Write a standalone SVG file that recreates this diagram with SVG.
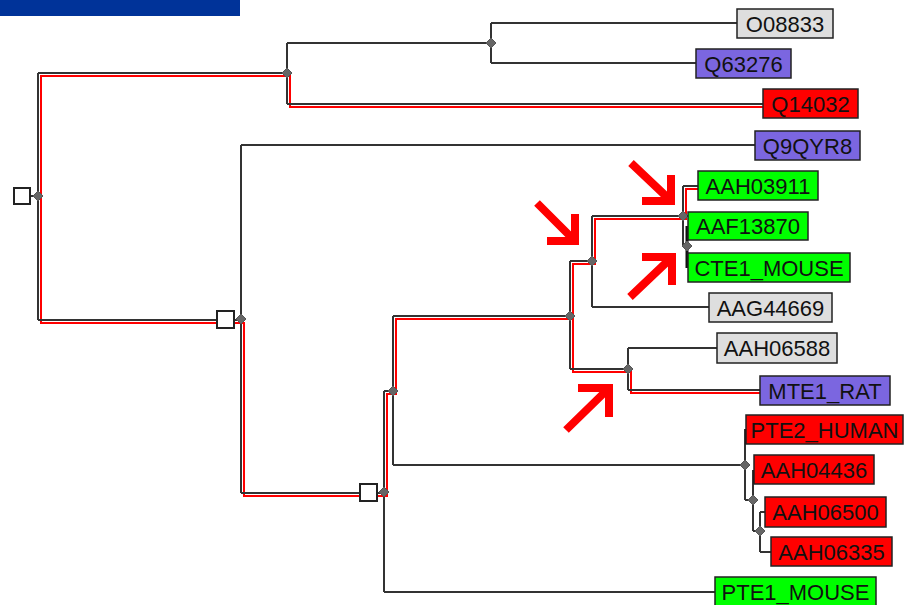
<svg xmlns="http://www.w3.org/2000/svg" width="906" height="605" viewBox="0 0 906 605">
<style>
.ln{fill:none;stroke:#333;stroke-width:2}
.lt{fill:none;stroke:#111;stroke-width:3}
.rd{fill:none;stroke:#ff0000;stroke-width:2}
.ar{fill:none;stroke:#ff0000;stroke-width:8;stroke-linejoin:miter;stroke-linecap:butt}
.dm{fill:#666;stroke:#555;stroke-width:1}
.sq{fill:#fff;stroke:#222;stroke-width:2}
.bx{stroke:#222;stroke-width:1.5}
.g{fill:#dedede}.p{fill:#7b66e0}.r{fill:#ff0000}.gr{fill:#00ff00}
text{font-family:"Liberation Sans",Arial,sans-serif;font-size:22px;fill:#111;text-anchor:middle}
</style>
<defs>
<path id="d" class="dm" d="M0,-5L5,0L0,5L-5,0Z"/>
</defs>
<rect x="0" y="0" width="240" height="16" fill="#003399"/>
<g id="connectors">
<path class="rd" d="M763,107H290V76H41V323H244V496H387V394H396V319H573V264H595V219H686V189H698"/>
<path class="rd" d="M573,319V372H631V393H760"/>
<path class="ln" d="M30,196H38M38,73V320M38,73H287M38,320H241"/>
<path class="ln" d="M287,43V104M287,43H491M287,104H763"/>
<path class="ln" d="M491,23V63M491,23H737M491,63H696"/>
<path class="ln" d="M241,145V493M241,145H755M241,493H384"/>
<path class="ln" d="M384,391V592M384,391H393M384,592H715"/>
<path class="ln" d="M393,316V465M393,316H570M393,465H745"/>
<path class="ln" d="M570,261V369M570,261H592M570,369H628"/>
<path class="ln" d="M592,216V307M592,216H683M592,307H709"/>
<path class="ln" d="M683,186V246M683,186H698M683,246H687"/>
<path class="lt" d="M687,226V268"/>
<path class="ln" d="M628,348V390M628,348H717M628,390H760"/>
<path class="ln" d="M745,429V500M753,500H745"/>
<path class="lt" d="M746.5,429V444"/>
<path class="ln" d="M753,470V531M753,531H760"/>
<path class="lt" d="M754.5,470V484"/>
<path class="ln" d="M760,512V552M760,512H765M760,552H771"/>
</g>
<g id="markers">
<rect class="sq" x="14" y="188" width="16" height="16"/>
<rect class="sq" x="217" y="311" width="17" height="17"/>
<rect class="sq" x="360" y="484" width="17" height="17"/>
<use href="#d" x="38" y="196"/>
<use href="#d" x="287" y="73"/>
<use href="#d" x="491" y="43"/>
<use href="#d" x="241" y="319"/>
<use href="#d" x="384" y="492"/>
<use href="#d" x="393" y="391"/>
<use href="#d" x="570" y="316"/>
<use href="#d" x="592" y="261"/>
<use href="#d" x="683" y="216"/>
<use href="#d" x="687" y="246"/>
<use href="#d" x="628" y="369"/>
<use href="#d" x="745" y="465"/>
<use href="#d" x="753" y="500"/>
<use href="#d" x="760" y="531"/>
</g>
<g id="O08833"><rect class="bx g" x="737" y="9" width="96" height="29"/><text x="785" y="31.5">O08833</text></g>
<g id="Q63276"><rect class="bx p" x="696" y="49" width="95" height="29"/><text x="743.5" y="71.5">Q63276</text></g>
<g id="Q14032"><rect class="bx r" x="763" y="89" width="95" height="29"/><text x="810.5" y="111.5">Q14032</text></g>
<g id="Q9QYR8"><rect class="bx p" x="755" y="131" width="105" height="29"/><text x="807.5" y="153.5">Q9QYR8</text></g>
<g id="AAH03911"><rect class="bx gr" x="698" y="171" width="120" height="29"/><text x="758" y="193.5">AAH03911</text></g>
<g id="AAF13870"><rect class="bx gr" x="688" y="212" width="120" height="28"/><text x="748" y="233.5">AAF13870</text></g>
<g id="CTE1_MOUSE"><rect class="bx gr" x="688" y="253" width="162" height="29"/><text x="769" y="275.5">CTE1_MOUSE</text></g>
<g id="AAG44669"><rect class="bx g" x="709" y="293" width="123" height="29"/><text x="770.5" y="315.5">AAG44669</text></g>
<g id="AAH06588"><rect class="bx g" x="717" y="333" width="120" height="30"/><text x="777" y="356">AAH06588</text></g>
<g id="MTE1_RAT"><rect class="bx p" x="760" y="376" width="130" height="29"/><text x="825" y="398.5">MTE1_RAT</text></g>
<g id="PTE2_HUMAN"><rect class="bx r" x="746" y="415" width="157" height="29"/><text x="824.5" y="437.5">PTE2_HUMAN</text></g>
<g id="AAH04436"><rect class="bx r" x="754" y="455" width="120" height="29"/><text x="814" y="477.5">AAH04436</text></g>
<g id="AAH06500"><rect class="bx r" x="765" y="497" width="121" height="30"/><text x="825.5" y="520">AAH06500</text></g>
<g id="AAH06335"><rect class="bx r" x="771" y="537" width="121" height="29"/><text x="831.5" y="559.5">AAH06335</text></g>
<g id="PTE1_MOUSE"><rect class="bx gr" x="715" y="577" width="161" height="30"/><text x="795.5" y="600">PTE1_MOUSE</text></g>
<g id="arrows">
<path class="ar" d="M631,163L669,199M642,201H671V175"/>
<path class="ar" d="M537,203L573,239M547,241H575V214"/>
<path class="ar" d="M630,297L670,259M642,257H672V285"/>
<path class="ar" d="M566,430L607,390M578,388H609V417"/>
</g>
</svg>
